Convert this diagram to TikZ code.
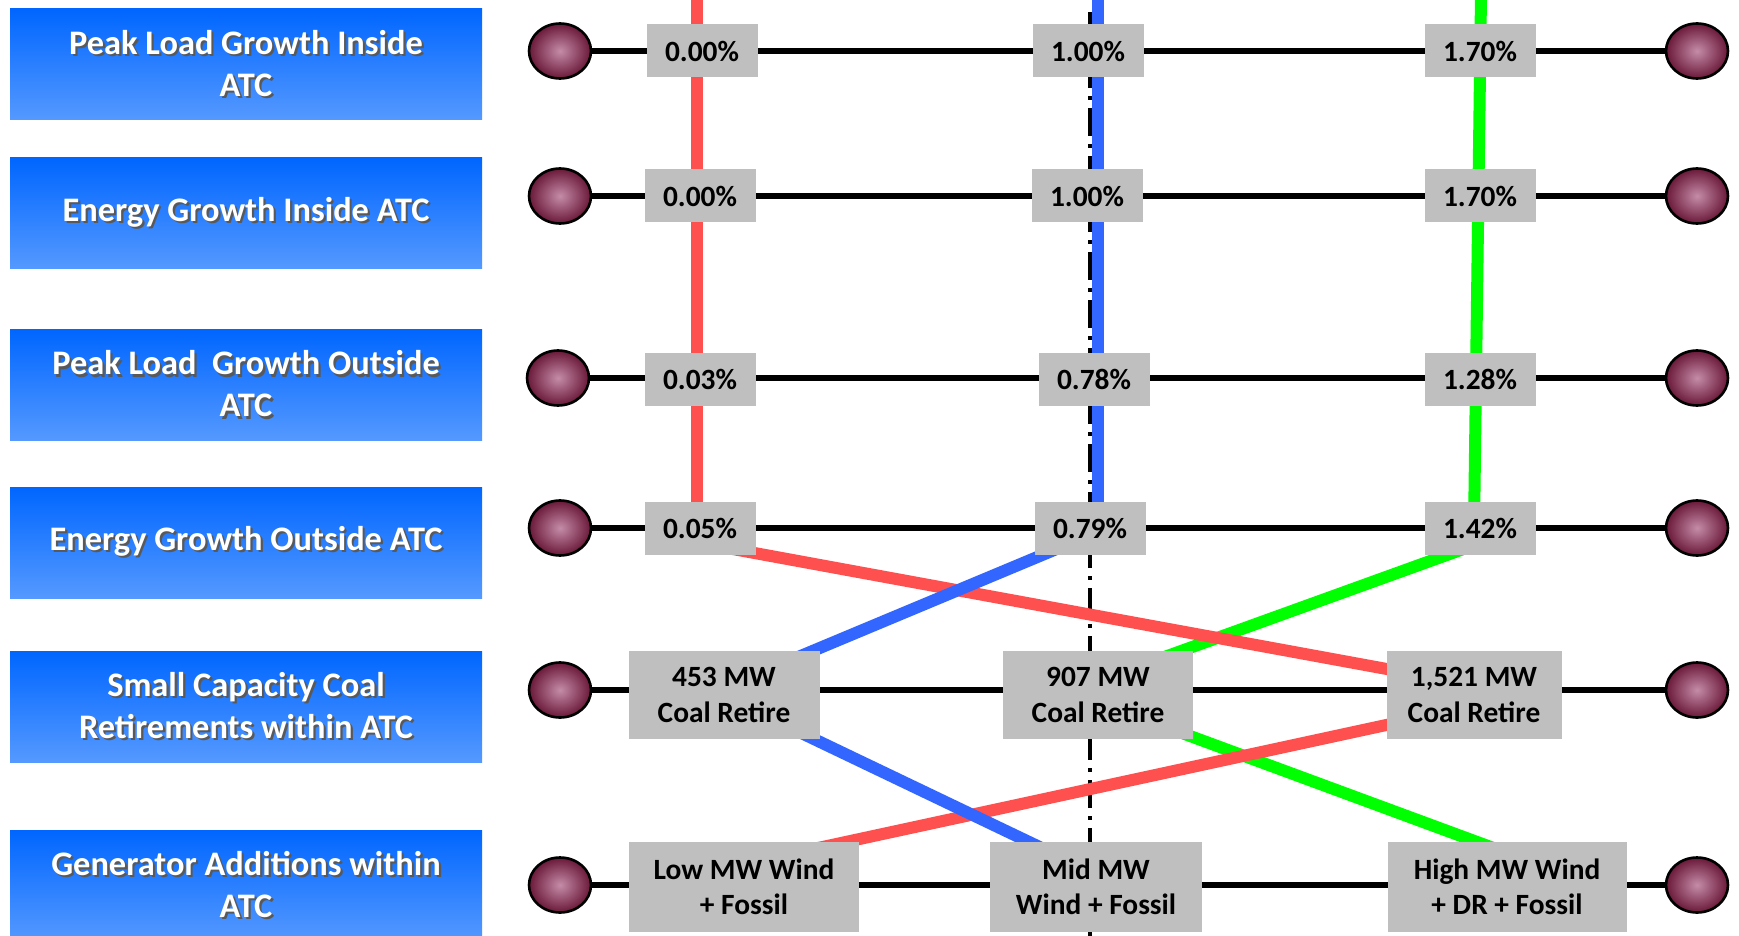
\documentclass[tikz,border=0pt]{standalone}
\usepackage{fontspec}
\setmainfont{Carlito}
\usepackage{tikz}
\usetikzlibrary{shapes.geometric,backgrounds}
\definecolor{HeadTop}{HTML}{0066FF}
\definecolor{HeadBot}{HTML}{5599FF}
\definecolor{BoxGray}{HTML}{BFBFBF}
\definecolor{LineRed}{HTML}{FF5050}
\definecolor{LineBlue}{HTML}{3366FF}
\definecolor{LineGreen}{HTML}{00FF00}
\definecolor{BallIn}{HTML}{C48CA8}
\definecolor{BallOut}{HTML}{6A1838}
\newcommand{\shtxt}[1]{%
  \makebox[0pt][l]{\kern1.1pt\raisebox{-1.1pt}{\textcolor{black!65}{#1}}}#1}
\tikzset{
  head/.style     = {top color=HeadTop, bottom color=HeadBot, text=white,
                     align=center, font=\fontsize{17.2pt}{21pt}\selectfont\bfseries,
                     minimum width=236pt, minimum height=55.5pt, inner sep=0pt},
  ball/.style     = {ellipse, draw=black, line width=1.3pt, inner color=BallIn,
                     outer color=BallOut, minimum width=31pt, minimum height=27.5pt,
                     inner sep=0pt},
  pct/.style      = {fill=BoxGray, font=\fontsize{14.7pt}{17.7pt}\selectfont\bfseries,
                     minimum width=55.5pt, minimum height=26.5pt, inner sep=0pt},
  mw/.style       = {fill=BoxGray, align=center,
                     font=\fontsize{14.7pt}{17.7pt}\selectfont\bfseries,
                     minimum height=44pt, inner sep=0pt},
  rowline/.style  = {line width=2.7pt},
  axisline/.style = {line width=2pt, dash pattern=on 14pt off 4pt on 2pt off 4pt},
  redpath/.style  = {LineRed, line width=6pt},
  bluepath/.style = {LineBlue, line width=6pt},
  greenpath/.style= {LineGreen, line width=6pt},
}
\begin{document}
\begin{tikzpicture}[x=0.5pt, y=-0.5pt]
  \useasboundingbox (0,0) rectangle (1739,936);

  % row headings
  \node[head] (h1) at (246,64.5) {\shtxt{Peak Load Growth Inside}\\\shtxt{ATC}};
  \node[head] (h2) at (246,213.5) {\shtxt{Energy Growth Inside ATC}};
  \node[head] (h3) at (246,385) {\shtxt{Peak Load~ Growth Outside}\\\shtxt{ATC}};
  \node[head] (h4) at (246,542.5) {\shtxt{Energy Growth Outside ATC}};
  \node[head] (h5) at (246,706.5) {\shtxt{Small Capacity Coal}\\\shtxt{Retirements within ATC}};
  \node[head] (h6) at (246,885.5) {\shtxt{Generator Additions within}\\\shtxt{ATC}};

  % end balls
  \node[ball] (lb1) at (560,51) {};
  \node[ball] (lb2) at (560,196) {};
  \node[ball] (lb3) at (558,378) {};
  \node[ball] (lb4) at (560,528) {};
  \node[ball] (lb5) at (560,690) {};
  \node[ball] (lb6) at (560,885) {};
  \node[ball] (rb1) at (1697,51) {};
  \node[ball] (rb2) at (1697,196) {};
  \node[ball] (rb3) at (1697,378) {};
  \node[ball] (rb4) at (1697,528) {};
  \node[ball] (rb5) at (1697,690) {};
  \node[ball] (rb6) at (1697,885) {};

  % values
  \node[pct] (r1a) at (702,51) {0.00\%};
  \node[pct] (r1b) at (1088,51) {1.00\%};
  \node[pct] (r1c) at (1480,51) {1.70\%};
  \node[pct] (r2a) at (700,196) {0.00\%};
  \node[pct] (r2b) at (1087,196) {1.00\%};
  \node[pct] (r2c) at (1480,196) {1.70\%};
  \node[pct] (r3a) at (700,379) {0.03\%};
  \node[pct] (r3b) at (1094,379) {0.78\%};
  \node[pct] (r3c) at (1480,379) {1.28\%};
  \node[pct] (r4a) at (700,528) {0.05\%};
  \node[pct] (r4b) at (1090,528) {0.79\%};
  \node[pct] (r4c) at (1480,528) {1.42\%};
  \node[mw, minimum width=95.5pt] (r5a) at (724,695) {453 MW\\Coal Retire};
  \node[mw, minimum width=95pt] (r5b) at (1098,695) {907 MW\\Coal Retire};
  \node[mw, minimum width=87.5pt] (r5c) at (1474,695) {1,521 MW\\Coal Retire};
  \node[mw, minimum width=115pt, minimum height=45pt] (r6a) at (744,887) {Low MW Wind\\+ Fossil};
  \node[mw, minimum width=106pt, minimum height=45pt] (r6b) at (1096,887) {Mid MW\\Wind + Fossil};
  \node[mw, minimum width=119.5pt, minimum height=45pt] (r6c) at (1507,887) {High MW Wind\\+ DR + Fossil};

  \coordinate (redtop) at (697,-5);
  \coordinate (bluetop) at (1098,-5);
  \coordinate (greentop) at (1481,-5);
  \coordinate (axtop) at (1090,12);
  \coordinate (axbot) at (1090,945);

  \begin{scope}[on background layer]
    \fill[white] (0,0) rectangle (1739,936);
    \draw[rowline] (lb1) -- (rb1);
    \draw[rowline] (lb2) -- (rb2);
    \draw[rowline] (lb3) -- (rb3);
    \draw[rowline] (lb4) -- (rb4);
    \draw[rowline] (lb5) -- (rb5);
    \draw[rowline] (lb6) -- (rb6);
    \draw[axisline] (axtop) -- (axbot);
    % high case
    \draw[greenpath] (greentop) -- ([shift={(-6,0)}]r4c.center);
    \draw[greenpath] ([shift={(0,15)}]r4c.center) -- ([shift={(0,-14)}]r5b.center);
    \draw[greenpath] ([shift={(0,7)}]r5b.center) -- ([shift={(0,-34)}]r6c.center);
    % low case
    \draw[redpath] (redtop) -- ([shift={(-3,0)}]r4a.center);
    \draw[redpath] ([shift={(0,15)}]r4a.center) -- ([shift={(0,-10)}]r5c.center);
    \draw[redpath] ([shift={(0,11)}]r5c.center) -- ([shift={(0,-23)}]r6a.center);
    % mid case
    \draw[bluepath] (bluetop) -- ([shift={(8,0)}]r4b.center);
    \draw[bluepath] ([shift={(0,7)}]r4b.center) -- ([shift={(0,-7)}]r5a.center);
    \draw[bluepath] ([shift={(0,1)}]r5a.center) -- ([shift={(0,-13)}]r6b.center);
  \end{scope}
\end{tikzpicture}
\end{document}
